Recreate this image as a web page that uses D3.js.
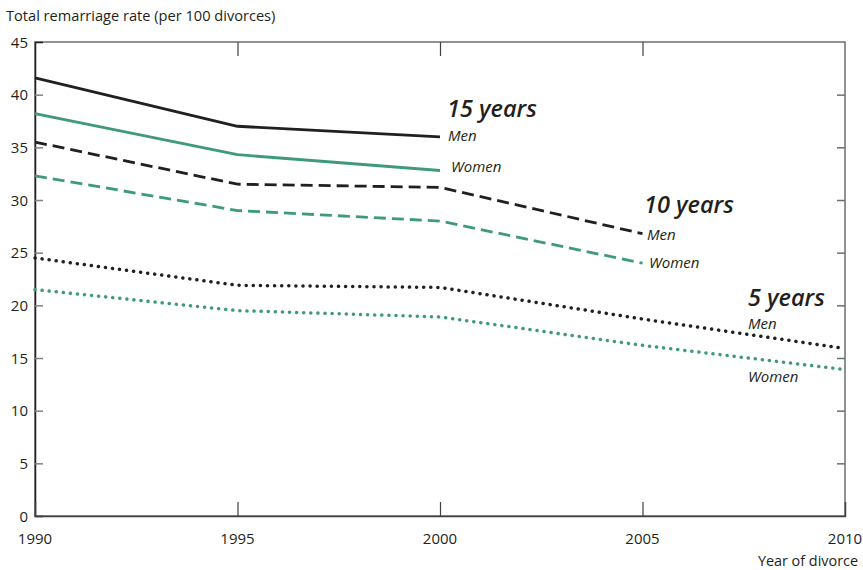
<!DOCTYPE html>
<html><head><meta charset="utf-8">
<script src="https://cdn.jsdelivr.net/npm/d3@7"></script>
<style>
body{margin:0;background:#fff;}
text{font-family:"Open Sans","Noto Sans",sans-serif;fill:#231f20;}
</style></head>
<body><svg id="c" width="863" height="570"></svg>
<script>
const years = [1990, 1995, 2000, 2005, 2010];
const yTicks = [0,5,10,15,20,25,30,35,40,45];
const men15   = [41.6, 37.0, 36.0];
const women15 = [38.2, 34.3, 32.8];
const men10   = [35.5, 31.5, 31.2, 26.8];
const women10 = [32.3, 29.0, 28.0, 24.0];
const men5    = [24.5, 21.9, 21.7, 18.7, 15.9];
const women5  = [21.5, 19.5, 18.9, 16.2, 13.9];
const yTitle = "Total remarriage rate (per 100 divorces)";
const xTitle = "Year of divorce";
const groupLabels = ["15 years","10 years","5 years"];

const black = "#231f20", green = "#3f9a7b";
const svg = d3.select("#c");
const L=35,R=845,T=42,B=516;
const x = d3.scaleLinear().domain([1990,2010]).range([L,R]);
const y = d3.scaleLinear().domain([0,45]).range([B,T]);

// frame
svg.append("rect").attr("x",L).attr("y",T).attr("width",R-L).attr("height",B-T)
  .attr("fill","none").attr("stroke","#6d6e70").attr("stroke-width",1.5);

// left axis (ticks inward)
const ga = svg.append("g").attr("transform",`translate(${L},0)`)
  .call(d3.axisRight(y).tickValues(yTicks).tickSize(8).tickFormat(""));
ga.select(".domain").attr("stroke",black).attr("stroke-width",1.5);
ga.selectAll(".tick line").attr("stroke","#808285").attr("stroke-width",1.5);
ga.selectAll(".tick").filter(d=>d===0||d===45).select("line").remove();
svg.append("g").selectAll("text").data(yTicks).join("text")
  .attr("x",28).attr("y",d=>y(d)+5.5).attr("text-anchor","end").attr("font-size",15).text(d=>d);

// right axis ticks
const gr = svg.append("g").attr("transform",`translate(${R},0)`)
  .call(d3.axisLeft(y).tickValues(yTicks.filter(d=>d>0&&d<45)).tickSize(8).tickFormat(""));
gr.select(".domain").remove();
gr.selectAll(".tick line").attr("stroke","#6d6e70").attr("stroke-width",1.5);

// bottom axis
const gb = svg.append("g").attr("transform",`translate(0,${B})`)
  .call(d3.axisTop(x).tickValues(years.slice(1,-1)).tickSize(14).tickFormat(""));
gb.select(".domain").attr("stroke","#414042").attr("stroke-width",1.5);
gb.selectAll(".tick line").attr("stroke","#414042").attr("stroke-width",1.2);
// top axis ticks
const gt = svg.append("g").attr("transform",`translate(0,${T})`)
  .call(d3.axisBottom(x).tickValues(years.slice(1,-1)).tickSize(14).tickFormat(""));
gt.select(".domain").remove();
gt.selectAll(".tick line").attr("stroke","#414042").attr("stroke-width",1.2);

svg.append("g").selectAll("text").data(years).join("text")
  .attr("x",d=>x(d)).attr("y",544).attr("text-anchor","middle").attr("font-size",15).text(d=>d);

svg.append("text").attr("x",6).attr("y",21).attr("font-size",14.6).text(yTitle);
svg.append("text").attr("x",858).attr("y",566).attr("text-anchor","end").attr("font-size",14.4).text(xTitle);

const line = d3.line().x((d,i)=>x(years[i])).y(d=>y(d));
const series = [
  {v:men15,c:black,dash:null},
  {v:women15,c:green,dash:null},
  {v:men10,c:black,dash:"12 6"},
  {v:women10,c:green,dash:"12 6"},
  {v:men5,c:black,dash:"0.1 7",cap:"round"},
  {v:women5,c:green,dash:"0.1 7",cap:"round"}
];
series.forEach(s=>{
  svg.append("path").attr("d",line(s.v)).attr("fill","none").attr("stroke",s.c)
    .attr("stroke-width",s.cap?3.5:2.8).attr("stroke-dasharray",s.dash)
    .attr("stroke-linecap",s.cap||"butt").attr("stroke-linejoin","round");
});

// labels
const big = [[447,117],[644,213],[748,306]];
groupLabels.forEach((t,i)=>{
  svg.append("text").attr("x",big[i][0]).attr("y",big[i][1]).attr("font-size",23.5)
    .attr("font-style","italic").attr("font-weight",600).text(t);
});
const small = [["Men",448,141],["Women",451,172],["Men",647,240],["Women",649,268],["Men",748,329],["Women",748,382]];
small.forEach(s=>{
  svg.append("text").attr("x",s[1]).attr("y",s[2]).attr("font-size",15).attr("font-style","italic").attr("fill","#414042").text(s[0]);
});
</script></body></html>
